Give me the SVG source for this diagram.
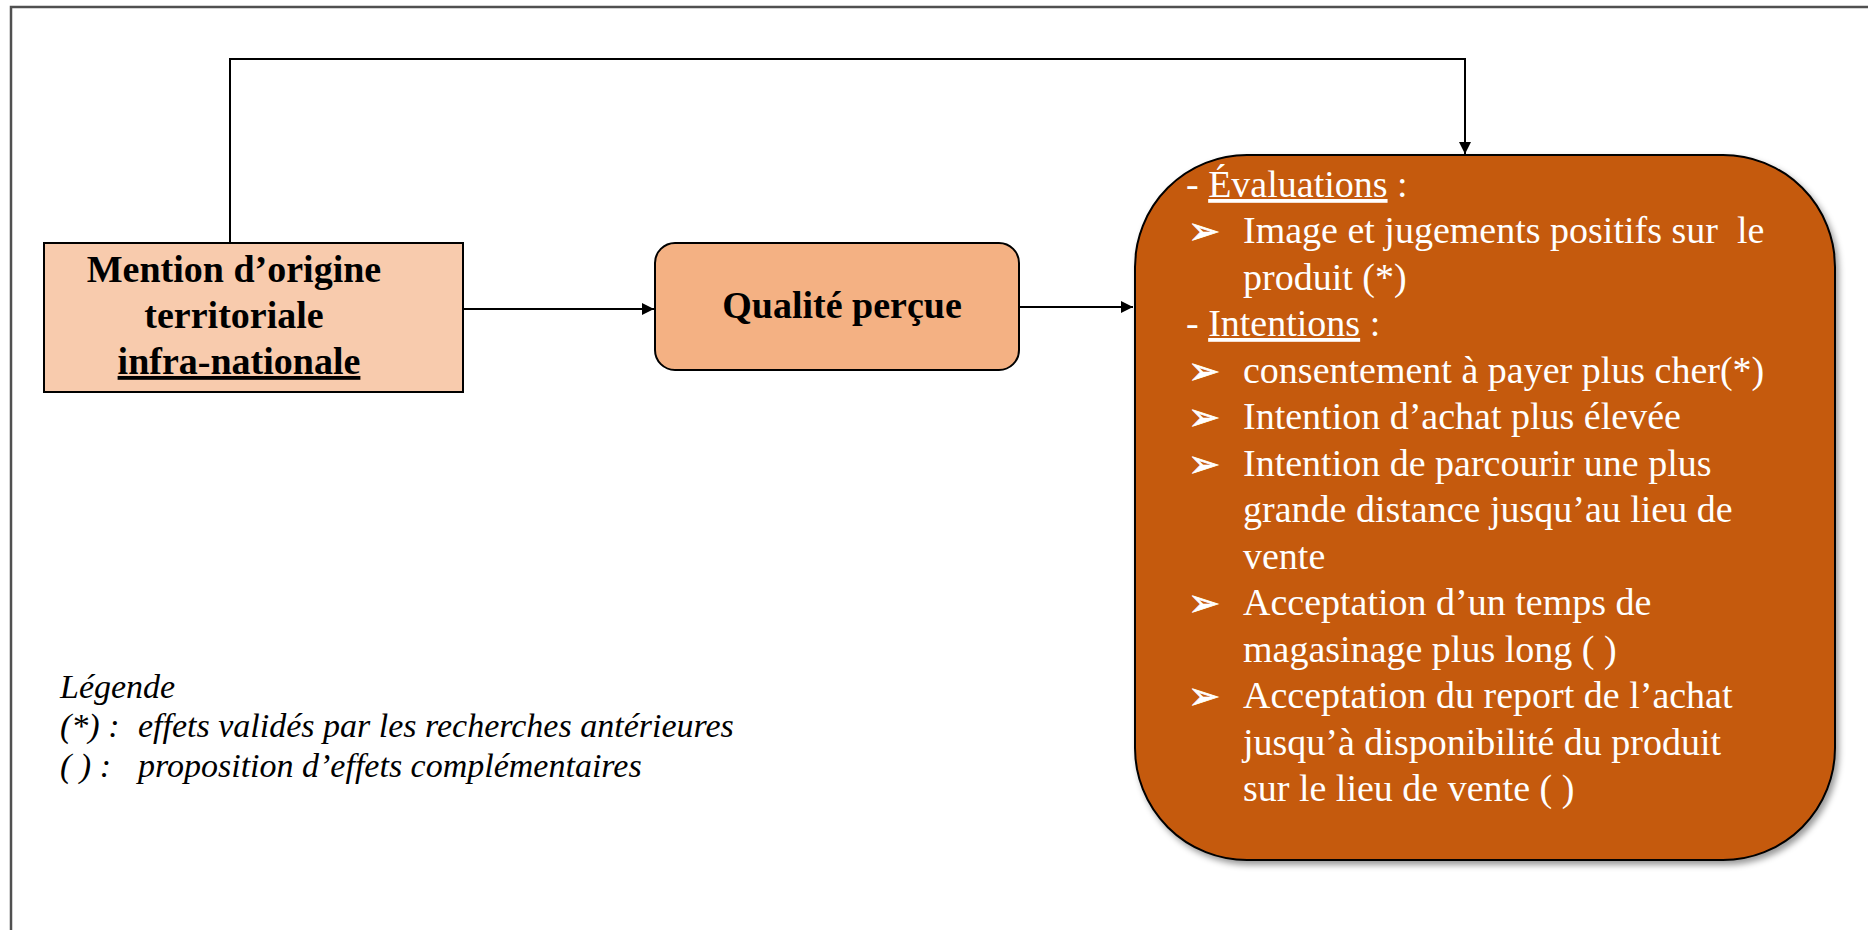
<svg xmlns="http://www.w3.org/2000/svg" width="1868" height="930" viewBox="0 0 1868 930">
<style>
.frame{stroke:#505050;stroke-width:2.5;fill:none}
.conn{stroke:#000;stroke-width:2;fill:none}
.nodebox{stroke:#000;stroke-width:2}
.bold{font-family:"Liberation Serif","Times New Roman",serif;font-weight:bold;font-size:38px;fill:#000}
.body{font-family:"Liberation Serif","Times New Roman",serif;font-size:38px;fill:#fff}
.bul{font-family:"DejaVu Sans",sans-serif;font-size:38px;fill:#fff;stroke:#fff;stroke-width:0.8}
.leg{font-family:"Liberation Serif","Times New Roman",serif;font-style:italic;font-size:34px;fill:#000}
</style>
<defs>
<marker id="arr" markerUnits="userSpaceOnUse" markerWidth="14" markerHeight="14" refX="12" refY="6" orient="auto">
<path d="M0,0 L12,6 L0,12 z" fill="#000"/>
</marker>
<filter id="shadow" x="-10%" y="-10%" width="125%" height="125%">
<feDropShadow dx="3" dy="4" stdDeviation="3" flood-color="#000" flood-opacity="0.4"/>
</filter>
</defs>
<rect width="1868" height="930" fill="#fff"/>
<g id="frame">
<path class="frame" d="M1868 7 H11 V930"/>
</g>
<g id="connectors">
<path class="conn" d="M230 243 V59 H1465 V154" marker-end="url(#arr)"/>
<path class="conn" d="M463 309 H654" marker-end="url(#arr)"/>
<path class="conn" d="M1019 307 H1133" marker-end="url(#arr)"/>
</g>
<g id="node-mention">
<rect class="nodebox" x="44" y="243" width="419" height="149" fill="#F8CBAD"/>
<text class="bold" text-anchor="middle"><tspan x="234" y="282">Mention d’origine</tspan><tspan x="234" y="328">territoriale</tspan><tspan x="239" y="374" text-decoration="underline">infra-nationale</tspan></text>
</g>
<g id="node-qualite">
<rect class="nodebox" x="655" y="243" width="364" height="127" rx="20" ry="20" fill="#F4B183"/>
<text class="bold" x="842" y="318" text-anchor="middle">Qualité perçue</text>
</g>
<g id="node-effets">
<rect class="nodebox" x="1135" y="155" width="700" height="705" rx="112" ry="112" fill="#C55A11" filter="url(#shadow)"/>
<text class="body">
<tspan x="1186" y="197">- </tspan><tspan text-decoration="underline">Évaluations</tspan><tspan> :</tspan>
<tspan x="1243" y="243">Image et jugements positifs sur&#160; le</tspan>
<tspan x="1243" y="290">produit (*)</tspan>
<tspan x="1186" y="336">- </tspan><tspan text-decoration="underline">Intentions</tspan><tspan> :</tspan>
<tspan x="1243" y="383">consentement à payer plus cher(*)</tspan>
<tspan x="1243" y="429">Intention d’achat plus élevée</tspan>
<tspan x="1243" y="476">Intention de parcourir une plus</tspan>
<tspan x="1243" y="522">grande distance jusqu’au lieu de</tspan>
<tspan x="1243" y="569">vente</tspan>
<tspan x="1243" y="615">Acceptation d’un temps de</tspan>
<tspan x="1243" y="662">magasinage plus long ( )</tspan>
<tspan x="1243" y="708">Acceptation du report de l’achat</tspan>
<tspan x="1243" y="755">jusqu’à disponibilité du produit</tspan>
<tspan x="1243" y="801">sur le lieu de vente ( )</tspan>
</text>
<text class="bul">
<tspan x="1188" y="244">➢</tspan>
<tspan x="1188" y="384">➢</tspan>
<tspan x="1188" y="430">➢</tspan>
<tspan x="1188" y="477">➢</tspan>
<tspan x="1188" y="616">➢</tspan>
<tspan x="1188" y="709">➢</tspan>
</text>
</g>
<g id="legend">
<text class="leg">
<tspan x="60" y="698">Légende</tspan>
<tspan x="60" y="737">(*) :</tspan><tspan x="138" y="737">effets validés par les recherches antérieures</tspan>
<tspan x="60" y="777">( ) :</tspan><tspan x="138" y="777">proposition d’effets complémentaires</tspan>
</text>
</g>
</svg>
